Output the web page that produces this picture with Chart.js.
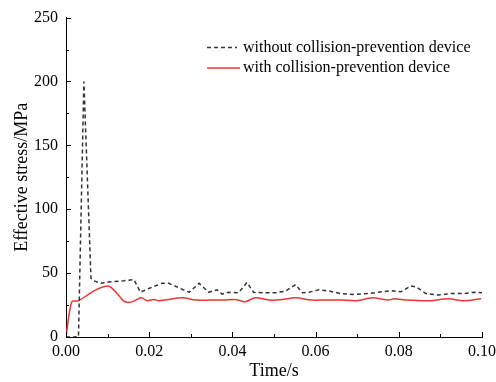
<!DOCTYPE html>
<html>
<head>
<meta charset="utf-8">
<script src="https://cdn.jsdelivr.net/npm/chart.js@4/dist/chart.umd.min.js"></script>
<style>
  html, body { margin: 0; padding: 0; background: #fff; overflow: hidden; }
  #wrap { width: 502px; height: 382px; position: relative; }
</style>
</head>
<body>
<div id="wrap"><canvas id="stressChart"></canvas></div>
<script>
// time (s) / effective stress (MPa), read per series
const timeWithout = [0, 0.0030, 0.0043, 0.0060, 0.0067, 0.0084, 0.0103, 0.0139, 0.0163, 0.0179, 0.0199, 0.0231, 0.0247, 0.0296, 0.0320, 0.0343, 0.0363, 0.0375, 0.0391, 0.0415, 0.0435, 0.0451, 0.0472, 0.0504, 0.0528, 0.0552, 0.0568, 0.0584, 0.0608, 0.0632, 0.0660, 0.0692, 0.0725, 0.0749, 0.0781, 0.0805, 0.0829, 0.0841, 0.0865, 0.0893, 0.0925, 0.0957, 0.0981, 0.1000];
const stressWithout = [0, 0, 200, 46, 44, 42, 43, 44, 45, 35, 38, 42, 42, 35, 42, 35, 37, 33.6, 35, 34.6, 42.7, 35, 34.6, 34.6, 36, 41, 34.6, 35, 37, 36, 34, 33.3, 34, 35, 36.2, 35.4, 40, 39.3, 34, 32.8, 34, 34, 35, 34.6];

const timeWith = [0, 0.0014, 0.0030, 0.0071, 0.0103, 0.0123, 0.0139, 0.0151, 0.0163, 0.0181, 0.0195, 0.0211, 0.0223, 0.0237, 0.0280, 0.0312, 0.0345, 0.0380, 0.0410, 0.0431, 0.0455, 0.0490, 0.0520, 0.0552, 0.0590, 0.0630, 0.0660, 0.0700, 0.0737, 0.0775, 0.0789, 0.0820, 0.0877, 0.0917, 0.0957, 0.0998];
const stressWith = [0, 27.6, 28.4, 36.7, 39.8, 34, 28.1, 27.1, 28.1, 30.7, 28.4, 29.4, 28.4, 28.9, 30.7, 28.9, 28.9, 29.0, 29.2, 27.6, 30.7, 28.9, 29.3, 30.7, 28.9, 29, 29, 28.4, 30.7, 28.9, 30, 28.9, 28.4, 30, 28.4, 30];

const seriesLabels = ['without collision-prevention device', 'with collision-prevention device'];
const xTicks = [0, 0.02, 0.04, 0.06, 0.08, 0.10];
const yTicks = [0, 50, 100, 150, 200, 250];

const toPoints = (xs, ys) => xs.map((x, i) => ({ x, y: ys[i] }));

Chart.defaults.font.family = '"Liberation Serif", "Times New Roman", serif';
Chart.defaults.color = '#000';

// inward major/minor tick marks on both axes
const innerTicks = {
  id: 'innerTicks',
  afterDraw(chart) {
    const { ctx, scales: { x, y }, chartArea } = chart;
    ctx.save();
    ctx.strokeStyle = '#000';
    ctx.lineWidth = 1;
    ctx.beginPath();
    for (let v = 0; v <= 0.1 + 1e-9; v += 0.01) {
      const px = Math.round(x.getPixelForValue(v)) + 0.5;
      const major = Math.round(v * 100) % 2 === 0;
      ctx.moveTo(px, chartArea.bottom);
      ctx.lineTo(px, chartArea.bottom - (major ? 5 : 3));
    }
    for (let v = 0; v <= 250; v += 25) {
      const py = Math.round(y.getPixelForValue(v)) + 0.5;
      const major = v % 50 === 0;
      ctx.moveTo(chartArea.left, py);
      ctx.lineTo(chartArea.left + (major ? 5 : 3), py);
    }
    ctx.stroke();
    ctx.restore();
  }
};

// legend inside the plot, line samples use each dataset's own stroke style
const insideLegend = {
  id: 'insideLegend',
  afterDraw(chart) {
    const { ctx } = chart;
    const rows = [47.5, 68];
    ctx.save();
    chart.data.datasets.forEach((ds, i) => {
      const yy = rows[i];
      ctx.beginPath();
      ctx.strokeStyle = ds.borderColor;
      ctx.lineWidth = ds.borderWidth;
      ctx.setLineDash(ds.borderDash || []);
      ctx.moveTo(207, yy);
      ctx.lineTo(i === 0 ? 237 : 240, yy);
      ctx.stroke();
      ctx.setLineDash([]);
      ctx.fillStyle = '#000';
      ctx.font = '16px "Liberation Serif", serif';
      ctx.textBaseline = 'middle';
      ctx.fillText(ds.label, 243, yy);
    });
    ctx.restore();
  }
};

new Chart(document.getElementById('stressChart'), {
  type: 'line',
  data: {
    datasets: [
      {
        label: seriesLabels[0],
        data: toPoints(timeWithout, stressWithout),
        borderColor: '#333333',
        borderWidth: 1.5,
        borderDash: [4, 3],
        pointRadius: 0,
        tension: 0
      },
      {
        label: seriesLabels[1],
        data: toPoints(timeWith, stressWith),
        borderColor: '#ee3535',
        borderWidth: 1.5,
        pointRadius: 0,
        tension: 0.3
      }
    ]
  },
  options: {
    responsive: true,
    maintainAspectRatio: false,
    animation: false,
    layout: { padding: { top: 17, right: 20, left: 0, bottom: 0 } },
    plugins: {
      legend: { display: false },
      tooltip: { enabled: false }
    },
    scales: {
      x: {
        type: 'linear',
        min: 0,
        max: 0.1,
        afterFit(scale) { scale.height = 45; },
        afterBuildTicks(scale) { scale.ticks = xTicks.map(value => ({ value })); },
        ticks: {
          padding: 5,
          maxRotation: 0,
          font: { size: 16 },
          callback: v => v.toFixed(2)
        },
        grid: { drawOnChartArea: false, drawTicks: false },
        border: { display: true, color: '#000', width: 1 },
        title: {
          display: true,
          text: 'Time/s',
          font: { size: 18 },
          padding: { top: 0, bottom: 0 }
        }
      },
      y: {
        min: 0,
        max: 250,
        afterFit(scale) { scale.width = 66; },
        afterBuildTicks(scale) { scale.ticks = yTicks.map(value => ({ value })); },
        ticks: { padding: 8, font: { size: 16 } },
        grid: { drawOnChartArea: false, drawTicks: false },
        border: { display: true, color: '#000', width: 1 },
        title: {
          display: true,
          text: 'Effective stress/MPa',
          font: { size: 18 },
          padding: { top: 11, bottom: 0 }
        }
      }
    }
  },
  plugins: [innerTicks, insideLegend]
});
</script>
</body>
</html>
